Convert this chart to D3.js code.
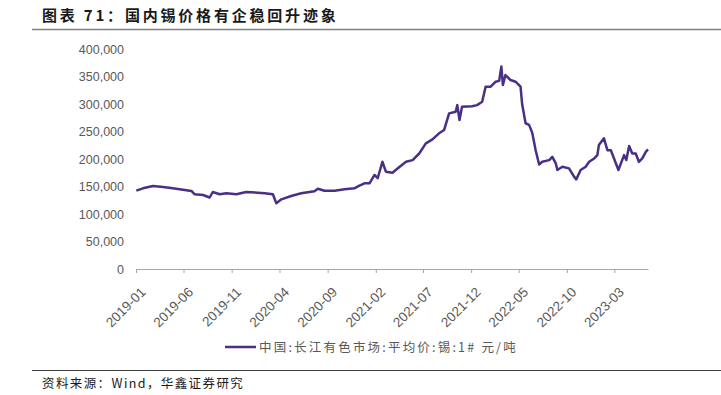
<!DOCTYPE html>
<html>
<head>
<meta charset="utf-8">
<script src="https://cdn.jsdelivr.net/npm/d3@7"></script>
<style>
    body { margin: 0; background: #fff; }
    text { font-family: "Noto Sans CJK SC", "Liberation Sans", sans-serif; }
    .axis text { font-family: "Liberation Sans", Arial, sans-serif; font-size: 12.5px; fill: #595959; }
    .axis path, .axis line { stroke: #a6a6a6; }
</style>
</head>
<body>
<div id="vis"></div>
<script>
/* 国内锡价格走势 line chart */

// dates and prices (元/吨)
var dates = ['2019-01-02', '2019-01-23', '2019-02-24', '2019-03-28', '2019-04-28', '2019-05-30',
    '2019-06-26', '2019-07-06', '2019-08-02', '2019-08-23', '2019-09-02', '2019-09-24', '2019-10-15',
    '2019-11-16', '2019-12-17', '2020-01-23', '2020-02-14', '2020-03-11', '2020-03-22', '2020-04-07',
    '2020-05-08', '2020-06-09', '2020-07-21', '2020-08-01', '2020-08-22', '2020-09-23', '2020-10-25',
    '2020-11-25', '2020-12-11', '2020-12-27', '2021-01-12', '2021-01-28', '2021-02-07', '2021-02-22',
    '2021-03-05', '2021-03-26', '2021-04-16', '2021-05-08', '2021-05-29', '2021-06-19', '2021-07-10',
    '2021-07-31', '2021-08-21', '2021-09-06', '2021-09-22', '2021-10-13', '2021-10-18', '2021-10-25',
    '2021-11-02', '2021-12-04', '2021-12-20', '2022-01-05', '2022-01-16', '2022-02-01', '2022-02-17',
    '2022-02-28', '2022-03-07', '2022-03-12', '2022-03-20', '2022-04-05', '2022-04-21', '2022-05-07',
    '2022-05-12', '2022-05-23', '2022-06-03', '2022-06-13', '2022-06-24', '2022-07-05', '2022-07-15',
    '2022-08-06', '2022-08-16', '2022-08-27', '2022-09-01', '2022-09-17', '2022-10-08', '2022-10-24',
    '2022-10-31', '2022-11-14', '2022-11-30', '2022-12-11', '2022-12-27', '2023-01-06', '2023-01-11',
    '2023-01-27', '2023-02-07', '2023-02-18', '2023-02-28', '2023-03-14', '2023-04-01', '2023-04-08',
    '2023-04-17', '2023-04-27', '2023-05-08', '2023-05-18', '2023-05-29', '2023-06-09', '2023-06-16'];

var prices = [142400, 146700, 151000, 149000, 146700, 144000,
    142000, 136000, 134500, 130000, 140000, 135800, 137600,
    135800, 140000, 138700, 137600, 135800, 119400, 126700,
    132700, 137600, 141300, 146000, 142400, 142400, 145000,
    146700, 151500, 155800, 155800, 171000, 165000, 195000,
    177000, 175000, 185000, 195000, 198000, 210000, 228500,
    235800, 246700, 252700, 283000, 286000, 298000, 271000,
    295000, 296000, 298000, 304000, 331500, 331500, 340500,
    342000, 368000, 334500, 352700, 343600, 340500, 331500,
    300000, 265000, 262000, 248000, 216000, 190000, 195000,
    198000, 204000, 192000, 180000, 186000, 183000, 168000,
    163000, 180000, 186000, 195000, 201000, 207000, 225500,
    237600, 216000, 216000, 201000, 180000, 207000, 198000,
    223600, 210000, 210000, 195000, 201000, 213000, 217600];

var yTicks = [0, 50000, 100000, 150000, 200000, 250000, 300000, 350000, 400000];
var xTickLabels = ['2019-01', '2019-06', '2019-11', '2020-04', '2020-09', '2021-02',
    '2021-07', '2021-12', '2022-05', '2022-10', '2023-03'];

var title = '图表 71：国内锡价格有企稳回升迹象';
var legendLabel = '中国:长江有色市场:平均价:锡:1# 元/吨';
var source = '资料来源：Wind，华鑫证券研究';

var width = 721;
var height = 395;
var margin = { left: 136, right: 73, top: 49, bottom: 126 };
var drawWidth = width - margin.left - margin.right;
var drawHeight = height - margin.top - margin.bottom;
var lineColor = '#4a2f86';

var parse = d3.timeParse('%Y-%m-%d');
var parseMonth = d3.timeParse('%Y-%m');
var data = dates.map(function(d, i) {
    return { date: parse(d), value: prices[i] };
});

var svg = d3.select('#vis')
    .append('svg')
    .attr('width', width)
    .attr('height', height);

// title + rule
svg.append('text')
    .attr('x', 42)
    .attr('y', 21)
    .attr('font-size', 15)
    .attr('font-weight', 'bold')
    .attr('letter-spacing', 2.8)
    .attr('fill', '#1a1a1a')
    .text(title);

svg.append('line')
    .attr('x1', 32).attr('x2', width)
    .attr('y1', 29.5).attr('y2', 29.5)
    .attr('stroke', '#7f7f7f')
    .attr('stroke-width', 1.5);

var xScale = d3.scaleTime()
    .domain([parse('2019-01-01'), parse('2023-06-16')])
    .range([0, drawWidth]);

var yScale = d3.scaleLinear()
    .domain([0, 400000])
    .range([drawHeight, 0]);

var g = svg.append('g')
    .attr('transform', 'translate(' + margin.left + ',' + margin.top + ')');

// y axis: labels only
var yAxis = d3.axisLeft(yScale)
    .tickValues(yTicks)
    .tickSize(0)
    .tickPadding(12)
    .tickFormat(d3.format(','));

g.append('g')
    .attr('class', 'axis')
    .call(yAxis)
    .call(function(s) { s.select('.domain').remove(); });

// x axis
var xAxis = d3.axisBottom(xScale)
    .tickValues(xTickLabels.map(parseMonth))
    .tickSizeInner(4)
    .tickSizeOuter(0)
    .tickFormat(d3.timeFormat('%Y-%m'));

var xg = g.append('g')
    .attr('class', 'axis')
    .attr('transform', 'translate(0,' + drawHeight + ')')
    .call(xAxis);

xg.selectAll('text')
    .attr('text-anchor', 'end')
    .attr('dx', 0)
    .attr('dy', 0)
    .attr('transform', 'translate(5,19) rotate(-45)')
    .style('font-size', '13.5px');

// price line
var line = d3.line()
    .x(function(d) { return xScale(d.date); })
    .y(function(d) { return yScale(d.value); });

g.append('path')
    .datum(data)
    .attr('fill', 'none')
    .attr('stroke', lineColor)
    .attr('stroke-width', 2.5)
    .attr('stroke-linejoin', 'round')
    .attr('d', line);

// legend
svg.append('line')
    .attr('x1', 225).attr('x2', 256)
    .attr('y1', 347).attr('y2', 347)
    .attr('stroke', lineColor)
    .attr('stroke-width', 2.5);

svg.append('text')
    .attr('x', 259)
    .attr('y', 351.5)
    .attr('font-size', 12.5)
    .attr('letter-spacing', 2.2)
    .attr('fill', '#595959')
    .text(legendLabel);

// footer
svg.append('line')
    .attr('x1', 32).attr('x2', width)
    .attr('y1', 370.5).attr('y2', 370.5)
    .attr('stroke', '#404040')
    .attr('stroke-width', 1.2);

svg.append('text')
    .attr('x', 42)
    .attr('y', 388)
    .attr('font-size', 12.5)
    .attr('letter-spacing', 1.4)
    .attr('fill', '#1a1a1a')
    .text(source);
</script>
</body>
</html>
